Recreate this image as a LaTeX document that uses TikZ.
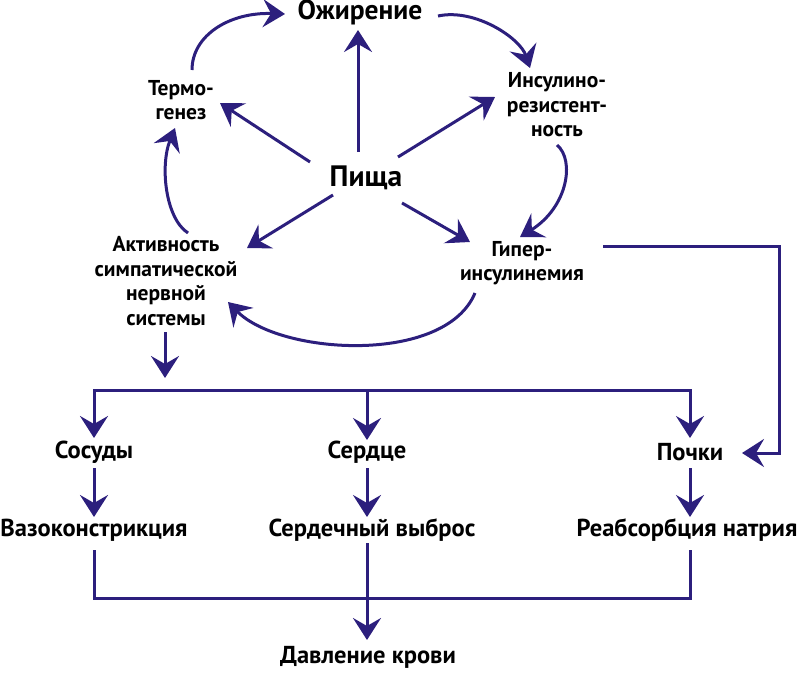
\documentclass[tikz,border=0pt]{standalone}
\usepackage{fontspec}
\setmainfont{PT Sans}
\usetikzlibrary{arrows.meta,calc}
\definecolor{navy}{RGB}{44,31,125}
\tikzset{
  lbl/.style={font=\bfseries\fontsize{21.5}{24.5}\selectfont, align=center, inner sep=0pt, text=black},
  lblb/.style={font=\bfseries\fontsize{24.5}{28}\selectfont, align=center, inner sep=0pt, text=black},
  conn/.style={draw=navy, line width=3pt},
  arr/.style={conn, -{Stealth[length=22pt,width=28pt,inset=8pt]}},
}
\begin{document}
\begin{tikzpicture}[x=1pt,y=-1pt]
\useasboundingbox (0,0) rectangle (800,672);
% nodes
\node[lbl, font=\bfseries\fontsize{27.5}{30}\selectfont] (ozh) at (360,12) {Ожирение};
\node[lbl, font=\bfseries\fontsize{29.5}{32}\selectfont] (pishcha) at (366,178) {Пища};
\node[lbl] (termo) at (181,100) {Термо-\\генез};
\node[lbl] (insul) at (557,105) {Инсулино-\\резистент-\\ность};
\node[lbl] (aktiv) at (166,281) {Активность\\симпатической\\нервной\\системы};
\node[lbl] (giper) at (522,263) {Гипер-\\инсулинемия};
\node[lblb] (sosudy) at (94,452) {Сосуды};
\node[lblb] (serdce) at (367,452) {Сердце};
\node[lblb] (pochki) at (690,452) {Почки};
\node[lblb] (vazo) at (94,530) {Вазоконстрикция};
\node[lblb] (vybros) at (372,530) {Сердечный выброс};
\node[lblb] (reabs) at (687,530) {Реабсорбция натрия};
\node[lblb] (davl) at (368,657) {Давление крови};
\coordinate (bus) at (0,390);
\coordinate (aktivtip) at (165,378);
% straight arrows from Pishcha
\draw[arr] ($(pishcha)+(-8,-26)$) -- ($(ozh)+(-2,18)$);
\draw[arr] ($(pishcha)+(-56,-16)$) -- ($(termo)+(39,3)$);
\draw[arr] ($(pishcha)+(32,-21)$) -- ($(insul)+(-62,-8)$);
\draw[arr] ($(pishcha)+(-33,17)$) -- ($(aktiv)+(81,-33)$);
\draw[arr] ($(pishcha)+(36,25)$) -- ($(giper)+(-52,-21)$);
% curved arrows
\draw[arr] ($(termo)+(11,-30)$) .. controls ($(termo)+(11,-65)$) and ($(ozh)+(-130,0)$) .. ($(ozh)+(-75,2)$);
\draw[arr] ($(ozh)+(78,4)$) .. controls ($(ozh)+(115,-4)$) and ($(insul)+(-37,-67)$) .. ($(insul)+(-27,-37)$);
\draw[arr] ($(insul)+(0,40)$) .. controls ($(insul)+(18,55)$) and ($(giper)+(46,-56)$) .. ($(giper)+(-2,-26)$);
\draw[arr] ($(aktiv)+(22,-48)$) .. controls ($(aktiv)+(-1,-63)$) and ($(termo)+(-21,65)$) .. ($(termo)+(-6,28)$);
\draw[arr] ($(giper)+(-47,30)$) .. controls ($(giper)+(-77,102)$) and ($(aktiv)+(114,74)$) .. ($(aktiv)+(62,21)$);
% down from aktiv
\draw[arr] ($(aktiv)+(-1,51)$) -- (aktivtip);
% bus
\draw[arr] (serdce |- bus) -| ($(sosudy)+(0,-14)$);
\draw[arr] (serdce |- bus) -| ($(pochki)+(0,-14)$);
\draw[arr] (serdce |- bus) -- ($(serdce)+(0,-12)$);
% columns
\draw[arr] ($(sosudy)+(0,16)$) -- ($(vazo)+(0,-13)$);
\draw[arr] ($(serdce)+(0,16)$) -- ($(vybros)+(-5,-13)$);
\draw[arr] ($(pochki)+(0,16)$) -- ($(reabs)+(3,-13)$);
% bottom collector
\draw[conn] ($(vazo)+(0,20)$) |- ($(reabs)+(3,68)$) -- ($(reabs)+(3,20)$);
\draw[arr] ($(vybros)+(-5,13)$) -- ($(davl)+(-1,-17)$);
% giper to pochki
\draw[arr] ($(giper)+(81,-17)$) -- ++(176,0) |- ($(pochki)+(52,1)$);
\end{tikzpicture}
\end{document}
